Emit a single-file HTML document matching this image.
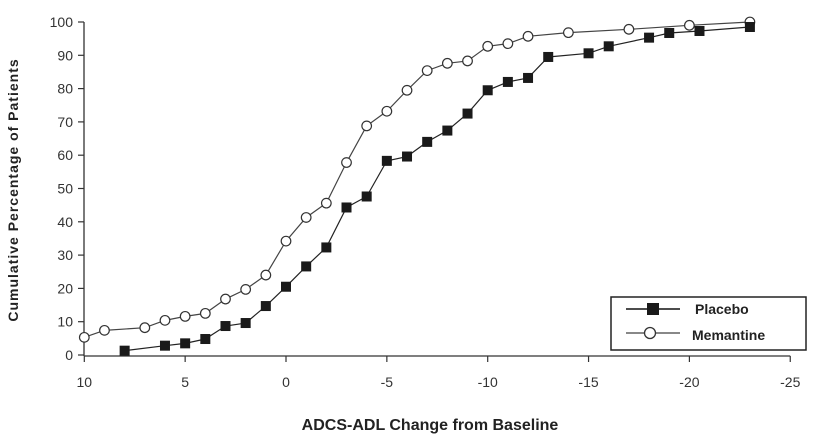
<!DOCTYPE html>
<html><head><meta charset="utf-8"><style>
html,body{margin:0;padding:0;background:#fff;}
svg{display:block;font-family:"Liberation Sans",Arial,sans-serif;}
</style></head><body>
<svg id="chart" width="819" height="445" viewBox="0 0 819 445">
<g id="axes"></g>
<g id="series"></g>
<text x="18" y="190" transform="rotate(-90 18 190)" text-anchor="middle" font-size="14" font-weight="bold" fill="#222" letter-spacing="1">Cumulative Percentage of Patients</text>
<text x="430" y="430" text-anchor="middle" font-size="16" font-weight="bold" fill="#222">ADCS-ADL Change from Baseline</text>
<g>
<rect x="611" y="297" width="195" height="53" fill="#fff" stroke="#222" stroke-width="1.5"/>
<g>
<line x1="626" y1="309" x2="680" y2="309" stroke="#111" stroke-width="1.5"/>
<rect x="647" y="303" width="12" height="12" fill="#1a1a1a"/>
<text x="695" y="314" font-size="14" font-weight="bold" fill="#222">Placebo</text>
</g>
<g>
<line x1="626" y1="333" x2="680" y2="333" stroke="#888" stroke-width="2"/>
<circle cx="650" cy="333" r="5.5" fill="#fff" stroke="#333" stroke-width="1.3"/>
<text x="692" y="340" font-size="14" font-weight="bold" fill="#222">Memantine</text>
</g>
</g>
</svg>
<script>
const xTicks=[10,5,0,-5,-10,-15,-20,-25];
const yTicks=[0,10,20,30,40,50,60,70,80,90,100];
const placeboX=[8,6,5,4,3,2,1,0,-1,-2,-3,-4,-5,-6,-7,-8,-9,-10,-11,-12,-13,-15,-16,-18,-19,-20.5,-23];
const placeboY=[1.3,2.8,3.5,4.8,8.7,9.6,14.7,20.5,26.6,32.3,44.3,47.6,58.3,59.6,64,67.4,72.5,79.5,82,83.2,89.5,90.6,92.7,95.3,96.7,97.3,98.5];
const memX=[10,9,7,6,5,4,3,2,1,0,-1,-2,-3,-4,-5,-6,-7,-8,-9,-10,-11,-12,-14,-17,-20,-23];
const memY=[5.3,7.4,8.2,10.4,11.6,12.5,16.8,19.7,24,34.2,41.3,45.6,57.8,68.8,73.2,79.5,85.4,87.6,88.3,92.7,93.5,95.7,96.8,97.8,99,100];
const NS="http://www.w3.org/2000/svg";
function sx(v){return 286-20.17*v;}
function sy(v){return 355-3.33*v;}
function mk(t,a){const e=document.createElementNS(NS,t);for(const k in a)e.setAttribute(k,a[k]);return e;}
const ax=document.getElementById('axes');
const se=document.getElementById('series');
let yl=mk('line',{x1:84,y1:sy(100),x2:84,y2:sy(0)+1,stroke:'#333','stroke-width':1.3});


ax.appendChild(yl);
let xl=mk('line',{x1:sx(10),y1:sy(0)+1,x2:sx(-25),y2:sy(0)+1,stroke:'#333','stroke-width':1.3});


ax.appendChild(xl);
yTicks.forEach(v=>{
 ax.appendChild(mk('line',{x1:78,y1:sy(v),x2:84,y2:sy(v),stroke:'#333','stroke-width':1.2}));
 const t=mk('text',{x:73,y:sy(v)+5,'text-anchor':'end','font-size':14,fill:'#333'});
 t.textContent=v;
 
 
 ax.appendChild(t);
});
xTicks.forEach(v=>{
 ax.appendChild(mk('line',{x1:sx(v),y1:sy(0)+1,x2:sx(v),y2:sy(0)+7,stroke:'#333','stroke-width':1.2}));
 const t=mk('text',{x:sx(v),y:387,'text-anchor':'middle','font-size':14,fill:'#333'});
 t.textContent=v;
 
 
 ax.appendChild(t);
});
function pts(X,Y){return X.map((x,i)=>sx(x)+','+sy(Y[i])).join(' ');}
let ml=mk('polyline',{points:pts(memX,memY),fill:'none',stroke:'#444','stroke-width':1.2});


se.appendChild(ml);
let pl=mk('polyline',{points:pts(placeboX,placeboY),fill:'none',stroke:'#222','stroke-width':1.2});


se.appendChild(pl);
memX.forEach((x,i)=>{
 const c=mk('circle',{cx:sx(x),cy:sy(memY[i]),r:4.8,fill:'#fff',stroke:'#333','stroke-width':1.2});
 
 
 se.appendChild(c);
});
placeboX.forEach((x,i)=>{
 const r=mk('rect',{x:sx(x)-5,y:sy(placeboY[i])-5,width:10,height:10,fill:'#1a1a1a'});
 
 
 se.appendChild(r);
});
</script>
</body></html>
